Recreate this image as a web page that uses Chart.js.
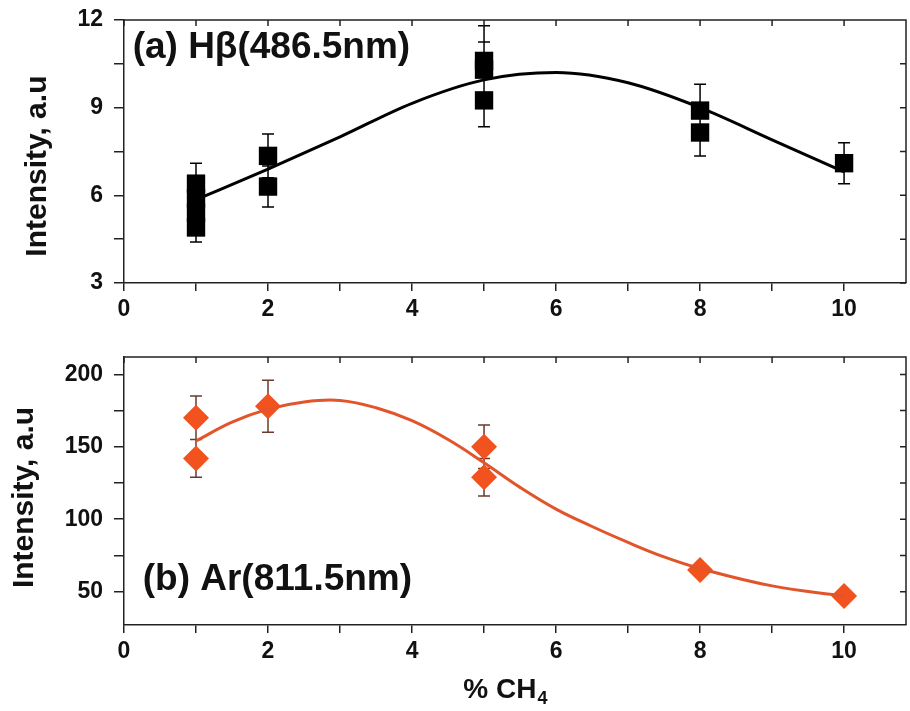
<!DOCTYPE html>
<html>
<head>
<meta charset="utf-8">
<script src="https://cdn.jsdelivr.net/npm/chart.js@4"></script>
<style>
  body { margin: 0; background: #fff; overflow: hidden; }
  #wrap { position: relative; width: 910px; height: 711px; overflow: hidden; }
  canvas { position: absolute; left: 0; }
</style>
</head>
<body>
<div id="wrap">
  <canvas id="hbChart" width="919" height="340" style="top:0"></canvas>
  <canvas id="arChart" width="919" height="371" style="top:340px"></canvas>
</div>
<script>
// panel (a) H-beta 486.5 nm
const hbX   = [1, 1, 1, 1, 2, 2, 5, 5, 5, 8, 8, 10];
const hbY   = [6.4, 5.9, 5.4, 4.9, 7.35, 6.3, 10.6, 10.3, 9.25, 8.9, 8.15, 7.1];
const hbErr = [0.7, 0.5, 0.5, 0.5, 0.75, 0.7, 1.2, 0.95, 0.9, 0.9, 0.8, 0.7];
const hbFitX = [1, 2, 3, 4, 5, 6, 7, 8, 9, 10];
const hbFitY = [5.85, 6.9, 8.0, 9.15, 9.95, 10.2, 9.85, 9.0, 7.9, 6.8];

// panel (b) Ar 811.5 nm
const arX   = [1, 1, 2, 5, 5, 8, 10];
const arY   = [170, 142, 178, 150, 129, 65, 47];
const arErr = [15, 13, 18, 15, 13, 3, 3];
const arFitX = [1, 1.5, 2, 2.5, 3, 3.5, 4, 4.5, 5, 5.5, 6, 6.5, 7, 7.5, 8, 9, 10];
const arFitY = [154, 167, 176, 181, 182, 177, 168, 155, 139, 122, 107, 95, 84, 74, 66, 54, 47];

const xTicks = [0, 1, 2, 3, 4, 5, 6, 7, 8, 9, 10];
const hbTicks = [3, 4.5, 6, 7.5, 9, 10.5, 12];
const arTicks = [50, 75, 100, 125, 150, 175, 200];

const FONT = 'Liberation Sans, Arial, sans-serif';
const AXIS = '#222';
const ORANGE = 'rgb(242, 82, 30)';

function pts(xs, ys) {
    return xs.map((x, i) => ({ x: x, y: ys[i] }));
}

const errorBars = {
    id: 'errorBars',
    beforeDatasetsDraw(chart, args, opts) {
        const ctx = chart.ctx;
        const x = chart.scales.x, y = chart.scales.y;
        ctx.save();
        ctx.strokeStyle = opts.color;
        ctx.lineWidth = 1.5;
        ctx.beginPath();
        opts.xs.forEach((xv, i) => {
            const px = x.getPixelForValue(xv);
            const top = y.getPixelForValue(opts.ys[i] + opts.errs[i]);
            const bot = y.getPixelForValue(opts.ys[i] - opts.errs[i]);
            ctx.moveTo(px, top); ctx.lineTo(px, bot);
            ctx.moveTo(px - 6, top); ctx.lineTo(px + 6, top);
            ctx.moveTo(px - 6, bot); ctx.lineTo(px + 6, bot);
        });
        ctx.stroke();
        ctx.restore();
    }
};

const frame = {
    id: 'frame',
    afterDraw(chart) {
        const ctx = chart.ctx, a = chart.chartArea;
        const x = chart.scales.x, y = chart.scales.y;
        ctx.save();
        ctx.strokeStyle = AXIS;
        ctx.lineWidth = 1.5;
        ctx.beginPath();
        ctx.moveTo(a.left, a.top); ctx.lineTo(a.right, a.top); ctx.lineTo(a.right, a.bottom);
        x.ticks.forEach(t => {
            const p = x.getPixelForValue(t.value);
            ctx.moveTo(p, a.top); ctx.lineTo(p, a.top + 6);
        });
        y.ticks.forEach(t => {
            const p = y.getPixelForValue(t.value);
            ctx.moveTo(a.right, p); ctx.lineTo(a.right - 6, p);
        });
        ctx.stroke();
        ctx.restore();
    }
};

const texts = {
    id: 'texts',
    afterDraw(chart, args, opts) {
        const ctx = chart.ctx;
        const x = chart.scales.x, y = chart.scales.y;
        ctx.save();
        ctx.fillStyle = '#111';
        ctx.textBaseline = 'middle';
        ctx.textAlign = 'left';
        ctx.font = 'bold 37px ' + FONT;
        ctx.fillText(opts.label, x.getPixelForValue(opts.lx), y.getPixelForValue(opts.ly));

        // y axis title
        ctx.save();
        ctx.translate(opts.titleX, y.getPixelForValue(opts.titleY));
        ctx.rotate(-Math.PI / 2);
        ctx.textAlign = 'center';
        ctx.font = 'bold 30px ' + FONT;
        ctx.fillText('Intensity, a.u', 0, 0);
        ctx.restore();

        if (opts.xTitle) {
            const cx = x.getPixelForValue(5.29);
            const cy = chart.height - 21;
            ctx.font = 'bold 28px ' + FONT;
            const w1 = ctx.measureText('% CH').width;
            ctx.font = 'bold 18px ' + FONT;
            const w2 = ctx.measureText('4').width;
            const left = cx - (w1 + w2) / 2;
            ctx.font = 'bold 28px ' + FONT;
            ctx.fillText('% CH', left, cy);
            ctx.font = 'bold 18px ' + FONT;
            ctx.fillText('4', left + w1 + 1, cy + 9);
        }
        ctx.restore();
    }
};

function xScale(height) {
    return {
        type: 'linear',
        min: 0,
        max: 10.86,
        afterBuildTicks: s => { s.ticks = xTicks.map(v => ({ value: v })); },
        afterFit: s => { s.height = height; },
        ticks: {
            color: '#111',
            padding: 5,
            font: { family: FONT, size: 23, weight: 'bold' },
            callback: v => (v % 2 === 0 ? v : '')
        },
        grid: { drawOnChartArea: false, tickLength: 8, color: AXIS, lineWidth: 1.5 },
        border: { color: AXIS, width: 1.5 }
    };
}

function yScale(min, max, tickList, every) {
    return {
        type: 'linear',
        min: min,
        max: max,
        afterBuildTicks: s => { s.ticks = tickList.map(v => ({ value: v })); },
        afterFit: s => { s.width = 124; s.paddingTop = 0; s.paddingBottom = 0; },
        ticks: {
            color: '#111',
            padding: 11,
            font: { family: FONT, size: 23, weight: 'bold' },
            callback: v => (v % every === 0 ? v : '')
        },
        grid: { drawOnChartArea: false, tickLength: 10, color: AXIS, lineWidth: 1.5 },
        border: { color: AXIS, width: 1.5 }
    };
}

const configHb = {
    type: 'scatter',
    data: {
        datasets: [{
            data: pts(hbFitX, hbFitY),
            showLine: true,
            borderColor: '#000',
            borderWidth: 3,
            pointRadius: 0,
            cubicInterpolationMode: 'monotone'
        }, {
            data: pts(hbX, hbY),
            pointStyle: 'rect',
            pointRadius: 13,
            backgroundColor: '#000',
            borderColor: '#000',
            borderWidth: 0
        }]
    },
    options: {
        responsive: false,
        animation: false,
        layout: { padding: { top: 20, right: 0, left: 0, bottom: 0 } },
        plugins: {
            legend: { display: false },
            tooltip: { enabled: false },
            errorBars: { xs: hbX, ys: hbY, errs: hbErr, color: '#000' },
            texts: { label: '(a) H\u03b2(486.5nm)', lx: 0.12, ly: 11.05, titleX: 38, titleY: 7.0 }
        },
        scales: {
            x: xScale(57),
            y: yScale(3, 12, hbTicks, 3)
        }
    },
    plugins: [errorBars, frame, texts]
};

const configAr = {
    type: 'scatter',
    data: {
        datasets: [{
            data: pts(arFitX, arFitY),
            showLine: true,
            borderColor: 'rgb(226, 84, 42)',
            borderWidth: 3,
            pointRadius: 0,
            tension: 0.4
        }, {
            data: pts(arX, arY),
            pointStyle: 'rectRot',
            pointRadius: 13,
            backgroundColor: ORANGE,
            borderColor: ORANGE,
            borderWidth: 0
        }]
    },
    options: {
        responsive: false,
        animation: false,
        layout: { padding: { top: 17, right: 0, left: 0, bottom: 0 } },
        plugins: {
            legend: { display: false },
            tooltip: { enabled: false },
            errorBars: { xs: arX, ys: arY, errs: arErr, color: '#6a3a2c' },
            texts: { label: '(b) Ar(811.5nm)', lx: 0.26, ly: 58.3, titleX: 25, titleY: 115, xTitle: true }
        },
        scales: {
            x: xScale(86),
            y: yScale(27, 212, arTicks, 50)
        }
    },
    plugins: [errorBars, frame, texts]
};

new Chart(document.getElementById('hbChart'), configHb);
new Chart(document.getElementById('arChart'), configAr);
</script>
</body>
</html>
